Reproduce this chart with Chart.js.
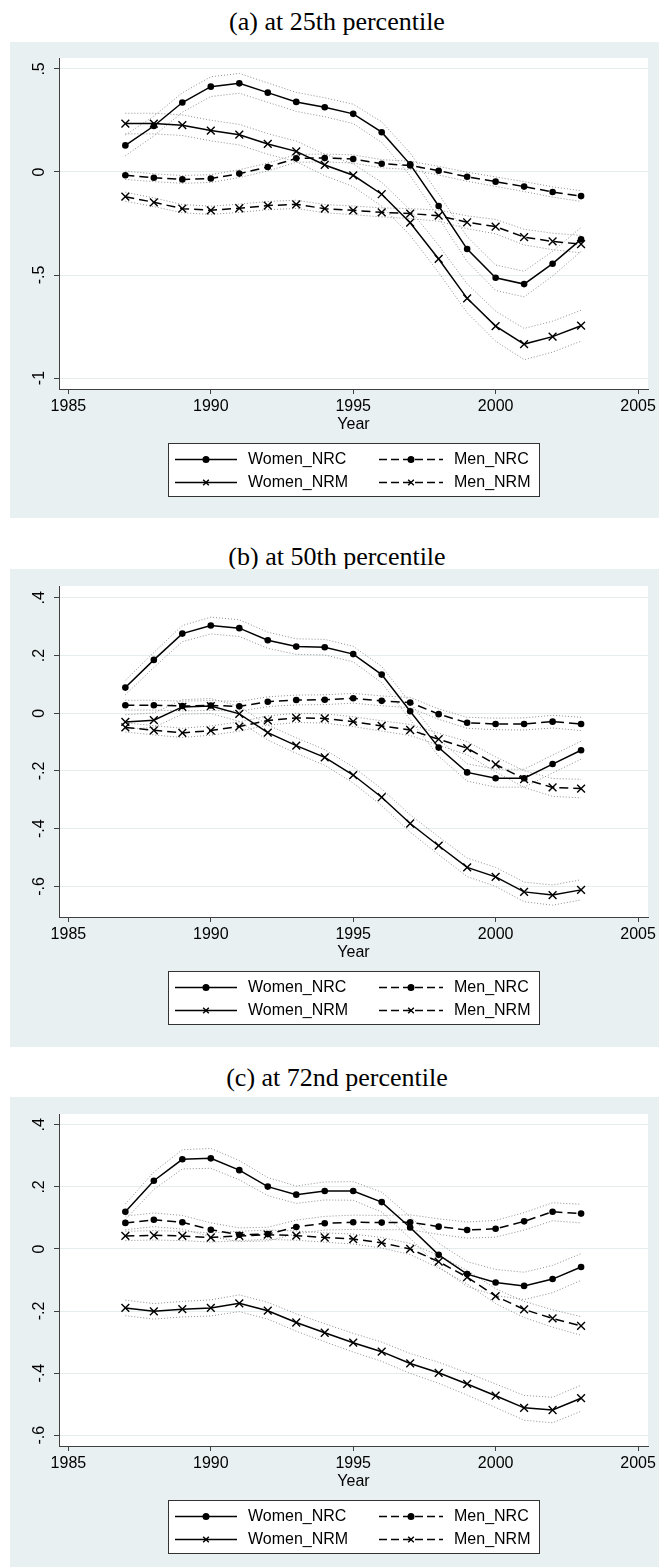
<!DOCTYPE html>
<html>
<head>
<meta charset="utf-8">
<script src="https://cdn.jsdelivr.net/npm/chart.js@4.4.1/dist/chart.umd.min.js"></script>
<style>
  body { margin: 0; background: #fff; width: 659px; height: 1567px; position: relative; overflow: hidden; }
  .title { position: absolute; left: 10px; width: 654px; text-align: center; font-family: "Liberation Serif", "Times New Roman", serif; font-size: 26px; line-height: 30px; color: #000; }
  canvas { position: absolute; left: 10px; }
</style>
</head>
<body>
<div class="title" style="top:7px">(a) at 25th percentile</div>
<canvas id="chartA" width="649" height="476" style="top:42px"></canvas>
<div class="title" style="top:542px">(b) at 50th percentile</div>
<canvas id="chartB" width="649" height="478" style="top:569px"></canvas>
<div class="title" style="top:1063px">(c) at 72nd percentile</div>
<canvas id="chartC" width="649" height="470" style="top:1097px"></canvas>
<script>
// years and axis ticks
const years = [1987, 1988, 1989, 1990, 1991, 1992, 1993, 1994, 1995, 1996, 1997, 1998, 1999, 2000, 2001, 2002, 2003];
const xTicks = [1985, 1990, 1995, 2000, 2005];
const yTicksA = [-1, -0.5, 0, 0.5];
const yLabelsA = ['-1', '-.5', '0', '.5'];
const yTicksBC = [-0.6, -0.4, -0.2, 0, 0.2, 0.4];
const yLabelsBC = ['-.6', '-.4', '-.2', '0', '.2', '.4'];

// (a) 25th percentile
const a_womenNRC    = [0.129, 0.223, 0.337, 0.414, 0.430, 0.385, 0.340, 0.314, 0.282, 0.193, 0.037, -0.165, -0.374, -0.513, -0.544, -0.445, -0.327];
const a_womenNRC_hi = [0.179, 0.271, 0.384, 0.462, 0.478, 0.432, 0.386, 0.360, 0.329, 0.243, 0.092, -0.107, -0.314, -0.451, -0.482, -0.385, -0.269];
const a_womenNRC_lo = [0.079, 0.175, 0.290, 0.366, 0.382, 0.338, 0.294, 0.268, 0.235, 0.143, -0.018, -0.223, -0.434, -0.575, -0.606, -0.505, -0.385];
const a_womenNRM    = [0.235, 0.235, 0.227, 0.201, 0.181, 0.136, 0.100, 0.034, -0.016, -0.108, -0.246, -0.422, -0.613, -0.748, -0.835, -0.799, -0.746];
const a_womenNRM_hi = [0.285, 0.285, 0.277, 0.251, 0.231, 0.186, 0.150, 0.086, 0.039, -0.050, -0.184, -0.356, -0.543, -0.675, -0.759, -0.724, -0.671];
const a_womenNRM_lo = [0.185, 0.185, 0.177, 0.151, 0.131, 0.086, 0.050, -0.018, -0.071, -0.166, -0.308, -0.488, -0.683, -0.821, -0.911, -0.874, -0.821];
const a_menNRC      = [-0.016, -0.028, -0.036, -0.032, -0.008, 0.024, 0.066, 0.068, 0.063, 0.040, 0.032, 0.006, -0.023, -0.047, -0.071, -0.097, -0.117];
const a_menNRC_hi   = [0.004, -0.009, -0.017, -0.013, 0.011, 0.043, 0.085, 0.087, 0.083, 0.060, 0.052, 0.027, -0.001, -0.024, -0.047, -0.072, -0.091];
const a_menNRC_lo   = [-0.036, -0.047, -0.055, -0.051, -0.027, 0.005, 0.047, 0.049, 0.043, 0.020, 0.012, -0.015, -0.045, -0.070, -0.095, -0.122, -0.143];
const a_menNRM      = [-0.120, -0.147, -0.178, -0.186, -0.176, -0.163, -0.157, -0.178, -0.186, -0.196, -0.202, -0.212, -0.244, -0.265, -0.316, -0.337, -0.350];
const a_menNRM_hi   = [-0.098, -0.126, -0.158, -0.166, -0.156, -0.143, -0.137, -0.158, -0.165, -0.174, -0.178, -0.185, -0.213, -0.230, -0.278, -0.297, -0.308];
const a_menNRM_lo   = [-0.142, -0.168, -0.198, -0.206, -0.196, -0.183, -0.177, -0.198, -0.207, -0.218, -0.226, -0.239, -0.275, -0.300, -0.354, -0.377, -0.392];

// (b) 50th percentile
const b_womenNRC    = [0.089, 0.185, 0.276, 0.304, 0.295, 0.253, 0.231, 0.229, 0.205, 0.134, 0.007, -0.119, -0.205, -0.225, -0.225, -0.176, -0.128];
const b_womenNRC_hi = [0.114, 0.211, 0.304, 0.333, 0.324, 0.281, 0.258, 0.256, 0.232, 0.162, 0.036, -0.089, -0.175, -0.194, -0.194, -0.145, -0.097];
const b_womenNRC_lo = [0.064, 0.159, 0.248, 0.275, 0.266, 0.225, 0.204, 0.202, 0.178, 0.106, -0.022, -0.149, -0.235, -0.256, -0.256, -0.207, -0.159];
const b_womenNRM    = [-0.030, -0.024, 0.022, 0.025, -0.002, -0.067, -0.112, -0.153, -0.214, -0.291, -0.382, -0.459, -0.534, -0.567, -0.619, -0.630, -0.612];
const b_womenNRM_hi = [-0.005, 0.001, 0.047, 0.051, 0.024, -0.041, -0.085, -0.126, -0.186, -0.262, -0.352, -0.428, -0.502, -0.534, -0.585, -0.595, -0.577];
const b_womenNRM_lo = [-0.055, -0.049, -0.003, -0.001, -0.028, -0.093, -0.139, -0.180, -0.242, -0.320, -0.412, -0.490, -0.566, -0.600, -0.653, -0.665, -0.647];
const b_menNRC      = [0.028, 0.028, 0.025, 0.027, 0.024, 0.040, 0.046, 0.047, 0.052, 0.043, 0.037, -0.003, -0.033, -0.037, -0.037, -0.029, -0.037];
const b_menNRC_hi   = [0.045, 0.045, 0.042, 0.044, 0.041, 0.057, 0.063, 0.064, 0.069, 0.060, 0.055, 0.015, -0.014, -0.017, -0.016, -0.007, -0.014];
const b_menNRC_lo   = [0.011, 0.011, 0.008, 0.010, 0.007, 0.023, 0.029, 0.030, 0.035, 0.026, 0.019, -0.021, -0.052, -0.057, -0.058, -0.051, -0.060];
const b_menNRM      = [-0.049, -0.059, -0.068, -0.060, -0.046, -0.025, -0.016, -0.018, -0.029, -0.044, -0.058, -0.090, -0.121, -0.177, -0.228, -0.257, -0.261];
const b_menNRM_hi   = [-0.033, -0.043, -0.052, -0.044, -0.030, -0.009, 0.000, -0.002, -0.012, -0.026, -0.039, -0.069, -0.098, -0.151, -0.199, -0.226, -0.229];
const b_menNRM_lo   = [-0.065, -0.075, -0.084, -0.076, -0.062, -0.041, -0.032, -0.034, -0.046, -0.062, -0.077, -0.111, -0.144, -0.203, -0.257, -0.288, -0.293];

// (c) 72nd percentile
const c_womenNRC    = [0.120, 0.220, 0.289, 0.292, 0.254, 0.201, 0.175, 0.187, 0.187, 0.151, 0.069, -0.019, -0.081, -0.108, -0.119, -0.097, -0.058];
const c_womenNRC_hi = [0.145, 0.248, 0.320, 0.324, 0.285, 0.230, 0.203, 0.216, 0.217, 0.183, 0.104, 0.019, -0.041, -0.066, -0.075, -0.053, -0.015];
const c_womenNRC_lo = [0.095, 0.192, 0.258, 0.260, 0.223, 0.172, 0.147, 0.158, 0.157, 0.119, 0.034, -0.057, -0.121, -0.150, -0.163, -0.141, -0.101];
const c_womenNRM    = [-0.190, -0.201, -0.194, -0.190, -0.175, -0.199, -0.237, -0.270, -0.302, -0.331, -0.369, -0.399, -0.435, -0.473, -0.512, -0.519, -0.481];
const c_womenNRM_hi = [-0.165, -0.176, -0.169, -0.164, -0.148, -0.172, -0.209, -0.241, -0.272, -0.300, -0.337, -0.365, -0.399, -0.435, -0.472, -0.478, -0.439];
const c_womenNRM_lo = [-0.215, -0.226, -0.219, -0.216, -0.202, -0.226, -0.265, -0.299, -0.332, -0.362, -0.401, -0.433, -0.471, -0.511, -0.552, -0.560, -0.523];
const c_menNRC      = [0.084, 0.094, 0.086, 0.062, 0.046, 0.048, 0.071, 0.083, 0.086, 0.085, 0.086, 0.072, 0.061, 0.065, 0.089, 0.120, 0.114];
const c_menNRC_hi   = [0.106, 0.116, 0.108, 0.084, 0.068, 0.070, 0.093, 0.105, 0.109, 0.108, 0.110, 0.097, 0.087, 0.092, 0.117, 0.149, 0.144];
const c_menNRC_lo   = [0.062, 0.072, 0.064, 0.040, 0.024, 0.026, 0.049, 0.061, 0.063, 0.062, 0.062, 0.047, 0.035, 0.038, 0.061, 0.091, 0.084];
const c_menNRM      = [0.042, 0.044, 0.042, 0.037, 0.042, 0.046, 0.043, 0.037, 0.032, 0.020, 0.000, -0.041, -0.091, -0.152, -0.195, -0.224, -0.248];
const c_menNRM_hi   = [0.057, 0.059, 0.057, 0.052, 0.057, 0.061, 0.058, 0.052, 0.048, 0.037, 0.018, -0.021, -0.069, -0.128, -0.169, -0.196, -0.218];
const c_menNRM_lo   = [0.027, 0.029, 0.027, 0.022, 0.027, 0.031, 0.028, 0.022, 0.016, 0.003, -0.018, -0.061, -0.113, -0.176, -0.221, -0.252, -0.278];

const BG = '#e8f0f2';
const GRID = '#e4ecee';
const AXIS = '#404040';
const CI = '#8f8f8f';
const FONT = { family: '"Liberation Sans", Arial, sans-serif', size: 16 };

Chart.defaults.font.family = FONT.family;
Chart.defaults.color = '#000';

function pts(vals) {
    return years.map((yr, i) => ({ x: yr, y: vals[i] }));
}

function mainSet(label, vals, dashed, style) {
    return {
        label: label,
        data: pts(vals),
        inLegend: true,
        borderColor: '#000',
        borderWidth: 1.5,
        borderDash: dashed ? [9, 5] : [],
        pointStyle: style,
        pointRadius: style === 'circle' ? 3.3 : 5.5,
        pointBackgroundColor: '#000',
        pointBorderColor: '#000',
        pointBorderWidth: style === 'circle' ? 0 : 1.4,
        tension: 0,
        fill: false,
        order: 0
    };
}

function ciSet(vals) {
    return {
        data: pts(vals),
        borderColor: CI,
        borderWidth: 1,
        borderDash: [1, 2],
        pointRadius: 0,
        tension: 0,
        fill: false,
        order: 1
    };
}

// grey panel background + white plot region
const panelBg = {
    id: 'panelBg',
    beforeDraw(chart) {
        const { ctx, chartArea: a } = chart;
        ctx.save();
        ctx.fillStyle = BG;
        ctx.fillRect(0, 0, chart.width, chart.height);
        ctx.fillStyle = '#fff';
        ctx.fillRect(a.left, a.top, a.right - a.left, a.bottom - a.top);
        ctx.restore();
    }
};

// stata-like legend box under the axis
const stataLegend = {
    id: 'stataLegend',
    afterDraw(chart) {
        const { ctx, chartArea: a } = chart;
        const top = Math.round(a.bottom) + 54;
        const left = 158, w = 371, h = 53;
        ctx.save();
        ctx.fillStyle = '#fff';
        ctx.fillRect(left, top, w, h);
        ctx.strokeStyle = '#333';
        ctx.lineWidth = 1;
        ctx.strokeRect(left + 0.5, top + 0.5, w, h);
        const items = chart.data.datasets.filter(d => d.inLegend);
        items.forEach((d, i) => {
            const col = i % 2, row = Math.floor(i / 2);
            const x0 = col ? 369 : 165;
            const len = col ? 64 : 62;
            const y = top + 16.5 + row * 23;
            ctx.strokeStyle = '#000';
            ctx.lineWidth = 1.4;
            ctx.setLineDash(d.borderDash.length ? [8, 4] : []);
            ctx.beginPath();
            ctx.moveTo(x0, y);
            ctx.lineTo(x0 + len, y);
            ctx.stroke();
            ctx.setLineDash([]);
            ctx.fillStyle = '#000';
            Chart.helpers.drawPoint(ctx, {
                pointStyle: d.pointStyle,
                radius: d.pointStyle === 'circle' ? 2.8 : 4,
                rotation: 0,
                borderWidth: 1.3
            }, x0 + len / 2, y);
            ctx.font = '16px ' + FONT.family;
            ctx.textBaseline = 'middle';
            ctx.textAlign = 'left';
            ctx.fillText(d.label, x0 + len + 11, y);
        });
        ctx.restore();
    }
};

function makePanel(id, sets, yMin, yMax, yTicks, yLabels, topPad, plotH) {
    const canvas = document.getElementById(id);
    const below = canvas.height - topPad - plotH;
    new Chart(canvas.getContext('2d'), {
        type: 'line',
        data: { datasets: sets },
        plugins: [panelBg, stataLegend],
        options: {
            responsive: false,
            animation: false,
            events: [],
            layout: { padding: { top: topPad, right: 10, left: 0, bottom: 0 } },
            plugins: { legend: { display: false }, tooltip: { enabled: false } },
            scales: {
                x: {
                    type: 'linear',
                    min: 1984.67,
                    max: 2005.35,
                    afterFit(s) { s.height = below; },
                    afterBuildTicks(s) { s.ticks = xTicks.map(v => ({ value: v })); },
                    ticks: { padding: 3, font: FONT, color: '#000', maxRotation: 0, autoSkip: false, callback: v => String(v) },
                    grid: { drawOnChartArea: false, tickColor: AXIS, tickLength: 5 },
                    border: { color: AXIS, width: 1 },
                    title: { display: true, text: 'Year', font: FONT, color: '#000', padding: { top: 0, bottom: below - 45 } }
                },
                y: {
                    type: 'linear',
                    min: yMin,
                    max: yMax,
                    afterFit(s) { s.width = 49; },
                    afterBuildTicks(s) { s.ticks = yTicks.map(v => ({ value: v })); },
                    ticks: {
                        minRotation: 90, maxRotation: 90, crossAlign: 'center', padding: 5,
                        font: FONT, color: '#000',
                        callback: v => yLabels[yTicks.indexOf(v)]
                    },
                    grid: { color: GRID, lineWidth: 1, tickColor: AXIS, tickLength: 5 },
                    border: { color: AXIS, width: 1 }
                }
            }
        }
    });
}

makePanel('chartA', [
    mainSet('Women_NRC', a_womenNRC, false, 'circle'),
    mainSet('Men_NRC', a_menNRC, true, 'circle'),
    mainSet('Women_NRM', a_womenNRM, false, 'crossRot'),
    mainSet('Men_NRM', a_menNRM, true, 'crossRot'),
    ciSet(a_womenNRC_hi), ciSet(a_womenNRC_lo),
    ciSet(a_menNRC_hi), ciSet(a_menNRC_lo),
    ciSet(a_womenNRM_hi), ciSet(a_womenNRM_lo),
    ciSet(a_menNRM_hi), ciSet(a_menNRM_lo)
], -1.053, 0.553, yTicksA, yLabelsA, 16, 331);

makePanel('chartB', [
    mainSet('Women_NRC', b_womenNRC, false, 'circle'),
    mainSet('Men_NRC', b_menNRC, true, 'circle'),
    mainSet('Women_NRM', b_womenNRM, false, 'crossRot'),
    mainSet('Men_NRM', b_menNRM, true, 'crossRot'),
    ciSet(b_womenNRC_hi), ciSet(b_womenNRC_lo),
    ciSet(b_menNRC_hi), ciSet(b_menNRC_lo),
    ciSet(b_womenNRM_hi), ciSet(b_womenNRM_lo),
    ciSet(b_menNRM_hi), ciSet(b_menNRM_lo)
], -0.706, 0.441, yTicksBC, yLabelsBC, 17, 331);

makePanel('chartC', [
    mainSet('Women_NRC', c_womenNRC, false, 'circle'),
    mainSet('Men_NRC', c_menNRC, true, 'circle'),
    mainSet('Women_NRM', c_womenNRM, false, 'crossRot'),
    mainSet('Men_NRM', c_menNRM, true, 'crossRot'),
    ciSet(c_womenNRC_hi), ciSet(c_womenNRC_lo),
    ciSet(c_menNRC_hi), ciSet(c_menNRC_lo),
    ciSet(c_womenNRM_hi), ciSet(c_womenNRM_lo),
    ciSet(c_menNRM_hi), ciSet(c_menNRM_lo)
], -0.635, 0.435, yTicksBC, yLabelsBC, 17, 332);
</script>
</body>
</html>
